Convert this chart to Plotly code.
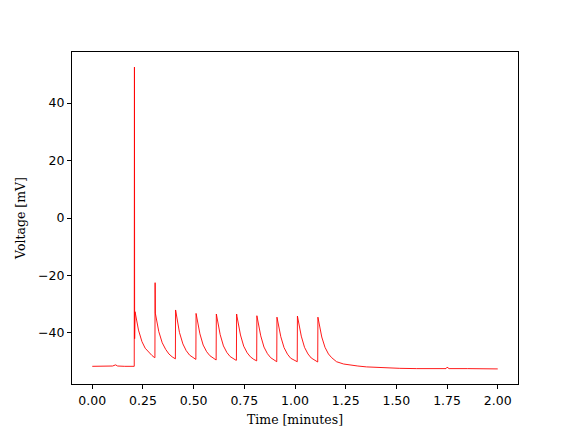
import plotly.graph_objects as go

# Time (minutes) and membrane voltage (mV)
time_min = [
    0.000, 0.050, 0.100, 0.115, 0.125, 0.160, 0.207,
    # burst 1
    0.208, 0.209, 0.211, 0.228, 0.245, 0.261, 0.278, 0.294, 0.306,
    # burst 2
    0.309, 0.310, 0.311, 0.328, 0.345, 0.362, 0.378, 0.394, 0.407,
    # burst 3
    0.410, 0.411, 0.413, 0.430, 0.447, 0.463, 0.480, 0.496, 0.508,
    # burst 4
    0.511, 0.512, 0.514, 0.531, 0.547, 0.564, 0.580, 0.597, 0.609,
    # burst 5
    0.611, 0.612, 0.614, 0.631, 0.647, 0.664, 0.680, 0.697, 0.709,
    # burst 6
    0.711, 0.712, 0.714, 0.731, 0.747, 0.764, 0.780, 0.797, 0.809,
    # burst 7
    0.811, 0.812, 0.814, 0.831, 0.847, 0.864, 0.880, 0.897, 0.909,
    # burst 8
    0.910, 0.911, 0.913, 0.930, 0.946, 0.963, 0.979, 0.996, 1.009,
    # burst 9
    1.011, 1.012, 1.014, 1.031, 1.047, 1.064, 1.080, 1.097, 1.110,
    # burst 10 and recovery
    1.112, 1.113, 1.115, 1.132, 1.148, 1.165, 1.181, 1.205, 1.240,
    1.271, 1.310, 1.353, 1.434, 1.517, 1.600, 1.700, 1.745, 1.750,
    1.760, 1.850, 1.950, 2.000,
]

voltage_mV = [
    -51.6, -51.6, -51.5, -51.1, -51.5, -51.6, -51.6,
    # burst 1
    52.5, -42.0, -32.6, -39.0, -43.0, -45.3, -46.8, -47.8, -48.5,
    # burst 2
    -48.6, -22.5, -33.1, -39.5, -43.4, -45.7, -47.3, -48.3, -48.9,
    # burst 3
    -49.0, -32.0, -33.0, -39.8, -43.8, -46.1, -47.7, -48.6, -49.2,
    # burst 4
    -49.2, -33.2, -34.0, -40.3, -44.2, -46.5, -47.9, -48.9, -49.4,
    # burst 5
    -49.4, -33.4, -34.3, -40.6, -44.5, -46.8, -48.2, -49.1, -49.5,
    # burst 6
    -49.5, -33.4, -34.3, -40.7, -44.6, -46.9, -48.3, -49.2, -49.7,
    # burst 7
    -49.7, -34.0, -34.8, -41.0, -44.9, -47.2, -48.6, -49.5, -50.0,
    # burst 8
    -50.0, -34.5, -35.2, -41.3, -45.1, -47.4, -48.8, -49.6, -50.0,
    # burst 9
    -50.0, -34.1, -34.9, -41.1, -45.0, -47.3, -48.7, -49.6, -50.1,
    # burst 10 and recovery
    -50.1, -34.5, -35.2, -41.4, -45.0, -47.3, -48.6, -50.0, -50.8,
    -51.2, -51.5, -51.8, -52.1, -52.3, -52.4, -52.4, -52.4, -51.9,
    -52.4, -52.4, -52.5, -52.5,
]

x_ticks = [0.0, 0.25, 0.5, 0.75, 1.0, 1.25, 1.5, 1.75, 2.0]
y_ticks = [-40, -20, 0, 20, 40]

fig = go.Figure(
    go.Scatter(
        x=time_min,
        y=voltage_mV,
        mode="lines",
        line=dict(color="red", width=0.9),
        showlegend=False,
        hoverinfo="skip",
    )
)

axis_common = dict(
    showgrid=False,
    zeroline=False,
    showline=True,
    linecolor="black",
    linewidth=1,
    mirror=True,
    automargin=False,
    ticks="outside",
    ticklen=4,
    tickwidth=1,
    tickcolor="black",
    tickfont=dict(family="DejaVu Sans", size=12.5, color="black"),
)

fig.update_layout(
    width=576,
    height=432,
    margin=dict(l=72, r=58, t=52, b=48),
    paper_bgcolor="white",
    plot_bgcolor="white",
    xaxis=dict(
        axis_common,
        range=[-0.1, 2.1],
        tickvals=x_ticks,
        tickformat=".2f",
        ticklabelstandoff=1,
        title=dict(text="Time [minutes]", font=dict(family="DejaVu Serif", size=12.5, color="black"), standoff=8),
    ),
    yaxis=dict(
        axis_common,
        range=[-57.75, 57.75],
        tickvals=y_ticks,
        title=dict(text="Voltage [mV]", font=dict(family="DejaVu Serif", size=12.5, color="black"), standoff=9),
    ),
)

fig.write_html(
    "out.html",
    config={"displayModeBar": False},
    post_script="document.body.style.margin='0';document.body.style.overflow='hidden';",
)
